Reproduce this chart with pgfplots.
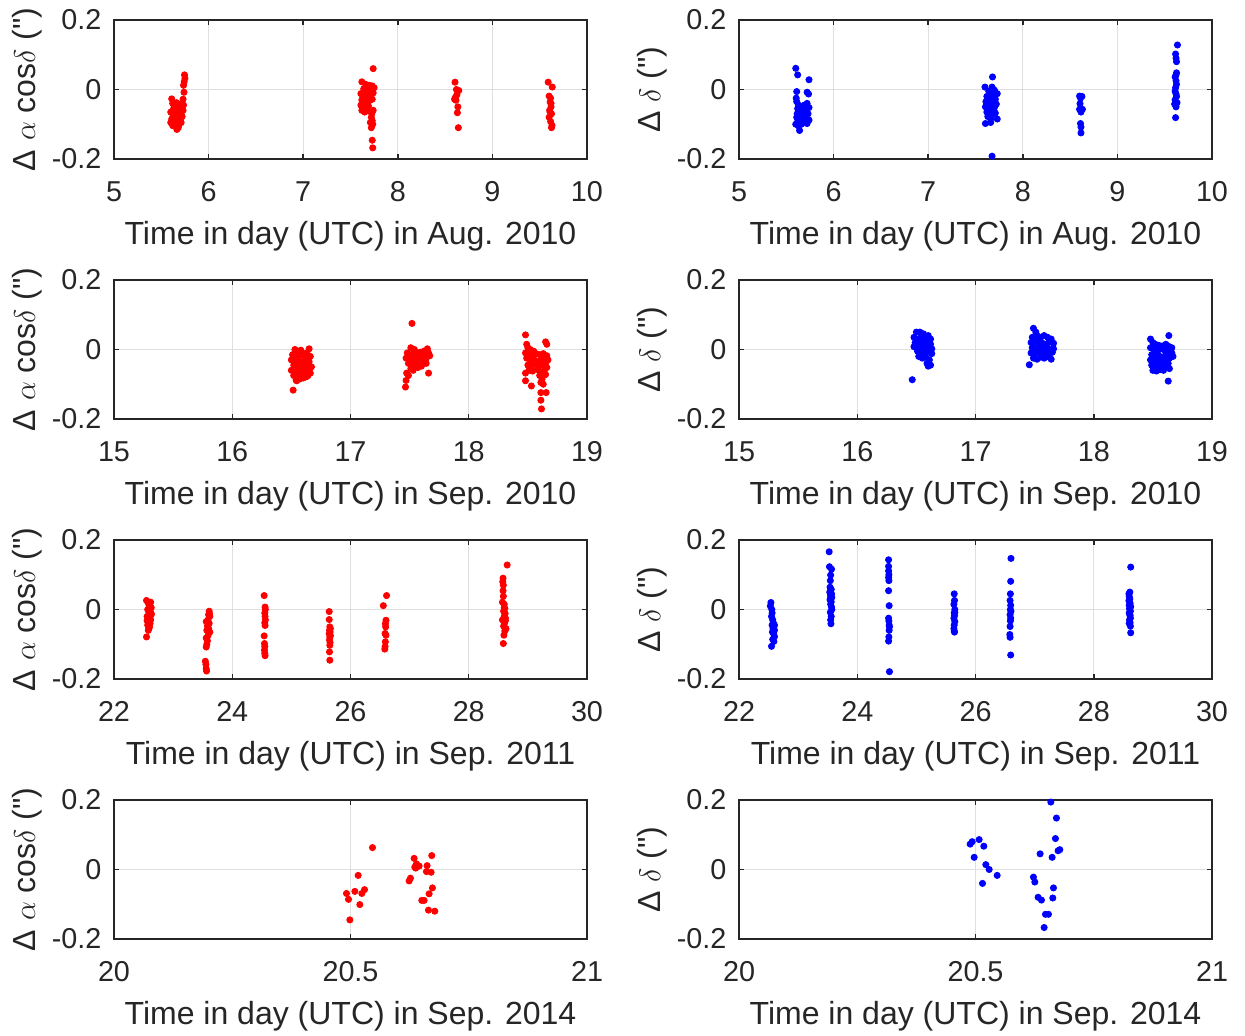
\documentclass[border=0pt]{standalone}
\usepackage{fontspec}
\setmainfont{Liberation Sans}
\newfontfamily\qfont{Liberation Sans}
\usepackage{pgfplots}
\pgfplotsset{compat=1.18}
\definecolor{axgray}{RGB}{38,38,38}
\definecolor{gridgray}{RGB}{223,223,223}
\pgfplotsset{
  panel/.style={
    scale only axis, width=189.2pt, height=55.6pt,
    ymin=-0.2, ymax=0.2, ytick={-0.2,0,0.2}, yticklabels={-0.2,0,0.2},
    grid=major, major grid style={gridgray, line width=0.4pt},
    axis line style={axgray, line width=0.6pt},
    tick style={axgray, line width=0.6pt}, major tick length=2pt, tick align=inside,
    tick label style={font=\fontsize{11.5}{13}\selectfont, text=axgray},
    xticklabel style={yshift=-5.5pt},
    yticklabel style={xshift=-1.5pt},
    label style={font=\fontsize{12.8}{15}\selectfont, text=axgray},
    xlabel style={at={(axis description cs:0.5,-0.558)}, anchor=center},
    ylabel style={at={(axis description cs:-0.184,0.5)}, anchor=center},
    anchor=south west,
  },
  pts/.style={only marks, mark=*, mark size=1.2pt, color=#1, mark options={draw=#1, fill=#1}},
  aug/.style={xmin=5, xmax=10, xtick={5,6,7,8,9,10}, xticklabels={5,6,7,8,9,10},
    xlabel={Time in day (UTC) in Aug. 2010}},
  sep10/.style={xmin=15, xmax=19, xtick={15,16,17,18,19}, xticklabels={15,16,17,18,19},
    xlabel={Time in day (UTC) in Sep. 2010}},
  sep11/.style={xmin=22, xmax=30, xtick={22,24,26,28,30}, xticklabels={22,24,26,28,30},
    xlabel={Time in day (UTC) in Sep. 2011}},
  sep14/.style={xmin=20, xmax=21, xtick={20,20.5,21}, xticklabels={20,20.5,21},
    xlabel={Time in day (UTC) in Sep. 2014}},
  ra/.style={ylabel={Δ $\alpha$ cos$\delta$ ({\qfont"})}},
  de/.style={ylabel={Δ $\delta$ ({\qfont"})}},
}
\begin{document}
\begin{tikzpicture}
\path[use as bounding box] (0,0) rectangle (498pt,414.4pt);

% ---- row 1: Aug. 2010
\begin{axis}[panel, aug, ra, at={(45.6pt,350.8pt)}]
\addplot[pts=red] coordinates {
(5.745,0.042)(5.75,0.032)(5.742,0.022)(5.735,0.012)(5.74,-0.008)(5.73,-0.028)(5.735,-0.045)
(5.61,-0.027)(5.62,-0.04)(5.64,-0.045)(5.66,-0.038)(5.68,-0.05)(5.70,-0.042)(5.63,-0.055)
(5.65,-0.06)(5.67,-0.058)(5.69,-0.065)(5.71,-0.07)(5.60,-0.065)(5.62,-0.07)(5.64,-0.075)
(5.66,-0.08)(5.68,-0.072)(5.70,-0.085)(5.61,-0.085)(5.63,-0.09)(5.65,-0.095)(5.67,-0.09)
(5.69,-0.1)(5.72,-0.078)(5.60,-0.095)(5.62,-0.104)(5.64,-0.1)(5.66,-0.105)(5.68,-0.11)
(5.665,-0.115)(5.71,-0.095)(5.73,-0.06)
(7.74,0.06)(7.62,0.022)(7.66,0.015)(7.70,0.012)(7.73,0.01)(7.75,0.005)(7.64,0.002)(7.68,0)
(7.72,-0.005)(7.61,-0.012)(7.63,-0.018)(7.66,-0.01)(7.69,-0.02)(7.71,-0.015)(7.74,-0.01)
(7.62,-0.03)(7.65,-0.035)(7.67,-0.025)(7.70,-0.032)(7.73,-0.028)(7.61,-0.045)(7.64,-0.05)
(7.66,-0.042)(7.69,-0.048)(7.62,-0.06)(7.65,-0.065)(7.68,-0.055)(7.70,-0.062)(7.725,-0.07)
(7.74,-0.06)(7.72,-0.08)(7.73,-0.09)(7.71,-0.095)(7.72,-0.11)(7.735,-0.1)(7.73,-0.146)(7.735,-0.168)
(8.605,0.021)(8.62,0)(8.645,-0.003)(8.61,-0.022)(8.615,-0.031)(8.635,-0.05)(8.63,-0.067)
(8.64,-0.11)(8.625,-0.015)(8.6,-0.028)
(9.59,0.021)(9.633,0.007)(9.60,-0.019)(9.615,-0.025)(9.61,-0.036)(9.62,-0.05)(9.605,-0.06)
(9.625,-0.07)(9.60,-0.08)(9.615,-0.092)(9.63,-0.103)(9.625,-0.11)(9.62,-0.04)(9.61,-0.065)
};
\end{axis}
\begin{axis}[panel, aug, de, at={(295.6pt,350.8pt)}]
\addplot[pts=blue] coordinates {
(5.60,0.061)(5.62,0.042)(5.74,0.028)(5.61,-0.006)(5.72,-0.008)(5.735,-0.013)(5.605,-0.025)
(5.61,-0.035)(5.63,-0.045)(5.66,-0.05)(5.69,-0.045)(5.72,-0.04)(5.74,-0.052)(5.62,-0.055)
(5.65,-0.06)(5.68,-0.058)(5.71,-0.062)(5.63,-0.068)(5.66,-0.072)(5.70,-0.075)(5.73,-0.07)
(5.61,-0.08)(5.64,-0.082)(5.67,-0.085)(5.69,-0.08)(5.62,-0.092)(5.65,-0.095)(5.68,-0.092)
(5.72,-0.098)(5.60,-0.1)(5.63,-0.105)(5.66,-0.1)(5.64,-0.118)(5.74,-0.088)(5.615,-0.07)
(7.68,0.036)(7.60,0.007)(7.675,0.007)(7.64,-0.005)(7.67,-0.01)(7.70,-0.002)(7.73,-0.012)
(7.62,-0.02)(7.65,-0.025)(7.68,-0.018)(7.71,-0.028)(7.61,-0.035)(7.63,-0.04)(7.66,-0.045)
(7.69,-0.038)(7.72,-0.042)(7.605,-0.05)(7.64,-0.055)(7.67,-0.06)(7.70,-0.052)(7.62,-0.065)
(7.65,-0.07)(7.68,-0.072)(7.71,-0.068)(7.63,-0.078)(7.66,-0.085)(7.73,-0.085)(7.605,-0.098)
(7.66,-0.095)(7.675,-0.192)
(8.60,-0.019)(8.625,-0.02)(8.61,-0.025)(8.605,-0.041)(8.60,-0.057)(8.63,-0.057)(8.615,-0.065)
(8.61,-0.098)(8.615,-0.108)(8.615,-0.125)
(9.635,0.128)(9.615,0.102)(9.62,0.09)(9.625,0.08)(9.625,0.048)(9.62,0.042)(9.61,0.036)
(9.62,0.025)(9.625,0.015)(9.615,0.005)(9.61,-0.005)(9.62,-0.013)(9.625,-0.02)(9.61,-0.03)
(9.63,-0.038)(9.62,-0.05)(9.615,-0.081)(9.605,-0.042)
};
\end{axis}

% ---- row 2: Sep. 2010
\begin{axis}[panel, sep10, ra, at={(45.6pt,246.8pt)}]
\addplot[pts=red] coordinates {
(16.53,0.0)(16.55,-0.005)(16.58,-0.002)(16.65,0.002)(16.51,-0.015)(16.54,-0.02)(16.57,-0.018)
(16.6,-0.015)(16.63,-0.01)(16.66,-0.02)(16.50,-0.03)(16.53,-0.035)(16.56,-0.03)(16.59,-0.04)
(16.62,-0.028)(16.65,-0.035)(16.52,-0.045)(16.55,-0.05)(16.58,-0.048)(16.61,-0.055)(16.64,-0.045)
(16.67,-0.05)(16.50,-0.06)(16.53,-0.065)(16.56,-0.058)(16.59,-0.068)(16.62,-0.062)(16.65,-0.06)
(16.52,-0.075)(16.55,-0.078)(16.58,-0.072)(16.61,-0.08)(16.64,-0.075)(16.54,-0.088)(16.57,-0.085)
(16.60,-0.082)(16.63,-0.078)(16.515,-0.117)(16.545,-0.09)(16.575,-0.04)(16.6,-0.035)(16.66,-0.068)
(17.52,0.075)(17.51,0.005)(17.54,0.0)(17.65,0.002)(17.48,-0.01)(17.50,-0.015)(17.53,-0.012)
(17.56,-0.01)(17.59,-0.008)(17.62,-0.005)(17.66,-0.01)(17.47,-0.025)(17.50,-0.03)(17.53,-0.025)
(17.56,-0.028)(17.59,-0.022)(17.62,-0.02)(17.64,-0.025)(17.67,-0.018)(17.49,-0.04)(17.52,-0.042)
(17.55,-0.038)(17.58,-0.045)(17.61,-0.035)(17.64,-0.04)(17.51,-0.055)(17.54,-0.05)(17.57,-0.052)
(17.60,-0.048)(17.53,-0.06)(17.475,-0.068)(17.49,-0.075)(17.66,-0.068)(17.47,-0.089)(17.465,-0.108)
(17.545,-0.035)(17.63,-0.032)
(18.48,0.042)(18.65,0.022)(18.66,0.015)(18.49,0.015)(18.50,0.005)(18.52,0.0)(18.55,-0.005)
(18.48,-0.01)(18.51,-0.015)(18.54,-0.018)(18.57,-0.012)(18.60,-0.015)(18.63,-0.012)(18.66,-0.018)
(18.49,-0.025)(18.52,-0.03)(18.55,-0.028)(18.58,-0.035)(18.61,-0.03)(18.64,-0.025)(18.67,-0.03)
(18.50,-0.045)(18.53,-0.048)(18.56,-0.042)(18.59,-0.05)(18.62,-0.045)(18.65,-0.04)(18.51,-0.06)
(18.54,-0.062)(18.58,-0.058)(18.61,-0.065)(18.64,-0.06)(18.66,-0.052)(18.48,-0.068)(18.60,-0.075)
(18.62,-0.085)(18.61,-0.095)(18.63,-0.1)(18.48,-0.09)(18.53,-0.105)(18.61,-0.124)(18.655,-0.124)
(18.61,-0.146)(18.615,-0.171)(18.65,-0.072)
};
\end{axis}
\begin{axis}[panel, sep10, de, at={(295.6pt,246.8pt)}]
\addplot[pts=blue] coordinates {
(16.50,0.05)(16.53,0.05)(16.56,0.045)(16.60,0.04)(16.48,0.035)(16.51,0.03)(16.54,0.035)
(16.57,0.03)(16.61,0.028)(16.49,0.02)(16.52,0.015)(16.55,0.018)(16.58,0.02)(16.62,0.015)
(16.50,0.005)(16.53,0.0)(16.56,0.005)(16.59,0.008)(16.63,0.002)(16.48,0.008)(16.51,-0.005)
(16.54,-0.01)(16.57,-0.015)(16.60,-0.005)(16.63,-0.012)(16.52,-0.02)(16.55,-0.025)(16.58,-0.022)
(16.61,-0.03)(16.59,-0.04)(16.62,-0.045)(16.60,-0.048)(16.465,-0.087)(16.56,0.025)(16.62,0.03)
(17.49,0.061)(17.51,0.05)(17.48,0.035)(17.52,0.04)(17.55,0.035)(17.58,0.04)(17.61,0.035)
(17.64,0.03)(17.47,0.02)(17.50,0.022)(17.53,0.018)(17.56,0.02)(17.59,0.015)(17.62,0.02)
(17.66,0.018)(17.48,0.005)(17.51,0.002)(17.54,0.008)(17.57,0.0)(17.60,0.005)(17.63,0.0)
(17.66,0.002)(17.47,-0.01)(17.50,-0.012)(17.53,-0.008)(17.56,-0.015)(17.59,-0.01)(17.62,-0.015)
(17.65,-0.008)(17.49,-0.025)(17.52,-0.028)(17.55,-0.022)(17.58,-0.025)(17.61,-0.02)(17.64,-0.028)
(17.455,-0.044)(17.52,0.03)(17.60,-0.005)
(18.635,0.04)(18.48,0.03)(18.50,0.02)(18.52,0.015)(18.55,0.012)(18.58,0.01)(18.61,0.015)
(18.64,0.008)(18.66,0.005)(18.48,0.005)(18.51,0.0)(18.54,-0.005)(18.57,0.002)(18.60,-0.002)
(18.63,-0.005)(18.66,-0.01)(18.49,-0.015)(18.52,-0.02)(18.55,-0.018)(18.58,-0.022)(18.61,-0.015)
(18.64,-0.025)(18.67,-0.02)(18.48,-0.03)(18.51,-0.035)(18.54,-0.03)(18.57,-0.038)(18.60,-0.032)
(18.63,-0.04)(18.49,-0.045)(18.52,-0.05)(18.55,-0.048)(18.58,-0.052)(18.61,-0.045)(18.64,-0.055)
(18.50,-0.06)(18.53,-0.062)(18.56,-0.058)(18.59,-0.06)(18.63,-0.091)(18.53,-0.04)(18.62,0.0)
};
\end{axis}

% ---- row 3: Sep. 2011
\begin{axis}[panel, sep11, ra, at={(45.6pt,142.8pt)}]
\addplot[pts=red] coordinates {
(22.55,0.026)(22.62,0.021)(22.58,0.018)(22.60,0.01)(22.63,0.005)(22.57,0.0)(22.61,-0.005)
(22.59,-0.01)(22.63,-0.015)(22.56,-0.02)(22.60,-0.025)(22.62,-0.03)(22.58,-0.035)(22.61,-0.04)
(22.57,-0.045)(22.60,-0.05)(22.59,-0.055)(22.58,-0.06)(22.55,-0.079)(22.63,-0.012)(22.56,-0.032)
(23.61,-0.005)(23.60,-0.015)(23.62,-0.02)(23.59,-0.03)(23.56,-0.035)(23.61,-0.04)(23.58,-0.048)
(23.60,-0.055)(23.62,-0.065)(23.57,-0.06)(23.59,-0.075)(23.56,-0.082)(23.58,-0.09)(23.57,-0.1)
(23.56,-0.108)(23.545,-0.149)(23.555,-0.158)(23.56,-0.17)(23.565,-0.177)(23.615,-0.012)
(24.54,0.04)(24.555,0.007)(24.56,0.0)(24.55,-0.01)(24.555,-0.02)(24.56,-0.03)(24.55,-0.038)
(24.555,-0.046)(24.54,-0.076)(24.545,-0.098)(24.55,-0.107)(24.545,-0.117)(24.55,-0.126)(24.555,-0.133)
(25.64,-0.006)(25.64,-0.029)(25.65,-0.05)(25.66,-0.055)(25.645,-0.06)(25.655,-0.065)(25.64,-0.07)
(25.66,-0.075)(25.65,-0.08)(25.645,-0.088)(25.655,-0.095)(25.65,-0.103)(25.645,-0.122)(25.65,-0.146)
(26.61,0.04)(26.555,0.011)(26.60,-0.031)(26.59,-0.041)(26.595,-0.05)(26.585,-0.069)(26.6,-0.074)
(26.59,-0.093)(26.585,-0.107)(26.58,-0.114)
(28.65,0.128)(28.58,0.09)(28.575,0.08)(28.585,0.07)(28.58,0.054)(28.585,0.038)(28.57,0.021)
(28.60,0.015)(28.61,0.003)(28.59,-0.005)(28.615,-0.012)(28.6,-0.02)(28.57,-0.03)(28.62,-0.032)
(28.605,-0.04)(28.59,-0.048)(28.63,-0.055)(28.61,-0.062)(28.595,-0.074)(28.585,-0.098)(28.62,-0.025)
(28.6,0.005)
};
\end{axis}
\begin{axis}[panel, sep11, de, at={(295.6pt,142.8pt)}]
\addplot[pts=blue] coordinates {
(22.54,0.02)(22.53,0.01)(22.555,0.0)(22.56,-0.01)(22.55,-0.02)(22.57,-0.03)(22.58,-0.038)
(22.56,-0.045)(22.59,-0.05)(22.575,-0.055)(22.6,-0.06)(22.585,-0.07)(22.6,-0.078)(22.57,-0.086)
(22.59,-0.092)(22.55,-0.106)(22.565,-0.065)(22.6,-0.045)
(23.525,0.166)(23.53,0.123)(23.565,0.116)(23.55,0.099)(23.545,0.083)(23.54,0.064)(23.56,0.058)
(23.535,0.05)(23.565,0.045)(23.55,0.04)(23.57,0.035)(23.54,0.028)(23.56,0.022)(23.55,0.015)
(23.565,0.007)(23.545,-0.008)(23.56,-0.02)(23.55,-0.03)(23.555,-0.041)(23.57,0.0)(23.545,0.032)
(24.53,0.143)(24.53,0.124)(24.53,0.111)(24.535,0.1)(24.53,0.092)(24.535,0.083)(24.53,0.054)
(24.54,0.011)(24.53,-0.025)(24.535,-0.033)(24.54,-0.045)(24.545,-0.05)(24.54,-0.06)(24.535,-0.079)
(24.53,-0.091)(24.545,-0.179)
(25.64,0.045)(25.645,0.026)(25.635,0.015)(25.65,0.0)(25.64,-0.01)(25.645,-0.018)(25.635,-0.025)
(25.65,-0.035)(25.64,-0.045)(25.635,-0.055)(25.645,-0.065)(25.64,-0.062)(25.65,-0.008)
(26.6,0.147)(26.595,0.081)(26.59,0.045)(26.585,0.026)(26.595,0.012)(26.59,0.0)(26.585,-0.015)
(26.595,-0.025)(26.59,-0.033)(26.585,-0.049)(26.58,-0.072)(26.585,-0.08)(26.595,-0.131)(26.6,-0.005)
(28.625,0.122)(28.61,0.05)(28.595,0.045)(28.60,0.038)(28.61,0.03)(28.595,0.025)(28.615,0.018)
(28.6,0.012)(28.625,0.008)(28.605,0.002)(28.62,-0.005)(28.6,-0.01)(28.615,-0.018)(28.62,-0.025)
(28.605,-0.03)(28.615,-0.038)(28.6,-0.04)(28.62,-0.048)(28.625,-0.067)(28.61,-0.015)
};
\end{axis}

% ---- row 4: Sep. 2014
\begin{axis}[panel, sep14, ra, at={(45.6pt,38.8pt)}]
\addplot[pts=red] coordinates {
(20.5465,0.063)(20.6345,0.032)(20.6718,0.040)(20.6394,0.016)(20.6451,0.010)(20.6380,0.004)
(20.6359,0.007)(20.6620,0.011)(20.6606,-0.006)(20.6704,-0.008)(20.5162,-0.017)(20.6268,-0.025)
(20.6239,-0.033)(20.6732,-0.053)(20.5296,-0.058)(20.5092,-0.063)(20.4915,-0.069)(20.5239,-0.069)
(20.6662,-0.070)(20.4958,-0.086)(20.6507,-0.089)(20.6556,-0.089)(20.5197,-0.101)(20.6648,-0.117)
(20.6782,-0.120)(20.4986,-0.145)
};
\end{axis}
\begin{axis}[panel, sep14, de, at={(295.6pt,38.8pt)}]
\addplot[pts=blue] coordinates {
(20.6592,0.194)(20.6711,0.148)(20.6690,0.089)(20.6746,0.054)(20.6782,0.057)(20.6366,0.045)
(20.6620,0.035)(20.4887,0.073)(20.4930,0.080)(20.5077,0.086)(20.5176,0.067)(20.4972,0.035)
(20.5218,0.014)(20.5289,0.000)(20.5458,-0.017)(20.5148,-0.040)(20.6225,-0.022)(20.6254,-0.036)
(20.6648,-0.053)(20.6324,-0.080)(20.6394,-0.088)(20.6634,-0.082)(20.6479,-0.129)(20.6542,-0.129)
(20.6451,-0.167)
};
\end{axis}
\end{tikzpicture}
\end{document}
